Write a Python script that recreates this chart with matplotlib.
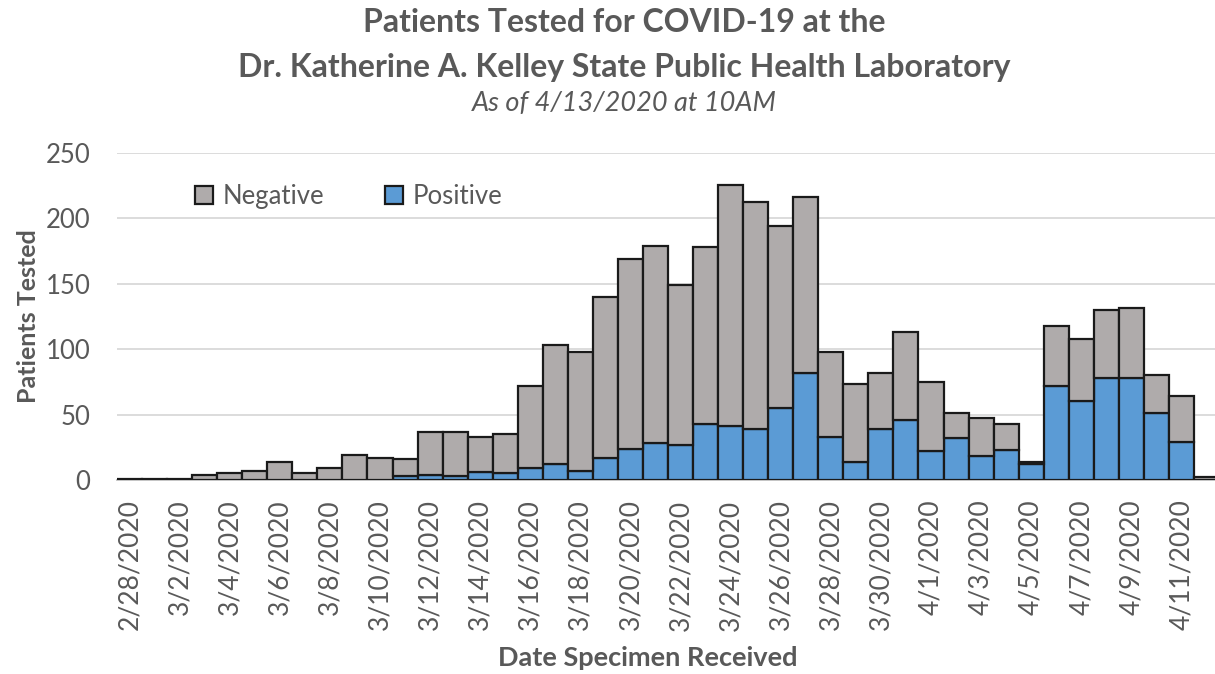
import matplotlib
matplotlib.use("Agg")
import matplotlib.pyplot as plt
import numpy as np

plt.rcParams['font.family'] = ['Lato', 'DejaVu Sans']

dates = ['2/28/2020'] + ['3/%d/2020' % d for d in range(1, 32)] + ['4/%d/2020' % d for d in range(1, 13)]
positive = [0, 0, 0, 0, 0, 0, 0, 0, 0, 0, 0,
            3, 4, 3, 6, 5, 9, 12, 7, 17, 24, 28, 27, 43, 41, 39, 55, 82, 33, 14, 39,
            46, 22, 32, 18, 23, 12, 72, 60, 78, 78, 51, 29, 0]
negative = [1, 1, 1, 4, 5, 7, 14, 5, 9, 19, 17,
            13, 33, 34, 27, 30, 63, 91, 91, 123, 145, 151, 122, 135, 184, 173, 139, 134, 65, 59, 43,
            67, 53, 19, 29, 20, 2, 46, 48, 52, 53, 29, 35, 2]

txt = '#595959'
fig = plt.figure(figsize=(12.15, 6.74), dpi=100)
ax = fig.add_axes((117 / 1215, 194 / 674, 1102 / 1215, 327.3 / 674))

x = np.arange(len(dates))
ax.bar(x, positive, width=1.0, color='#5B9BD5', edgecolor='#1a1a1a', linewidth=1.6,
       label='Positive', zorder=3)
ax.bar(x, negative, width=1.0, bottom=positive, color='#AFABAB', edgecolor='#1a1a1a',
       linewidth=1.6, label='Negative', zorder=3)

ax.set_xlim(-0.5, len(dates) - 0.5)
ax.set_ylim(0, 250)
ax.set_yticks(range(0, 251, 50))
ax.grid(axis='y', color='#d9d9d9', linewidth=1.3, zorder=0)
ax.set_xticks(x[::2])
ax.set_xticklabels(dates[::2], rotation=90)
ax.tick_params(axis='x', length=0, pad=14, labelsize=19, labelcolor=txt)
ax.tick_params(axis='y', length=0, pad=19, labelsize=18.5, labelcolor=txt)
for s in ['top', 'right', 'left']:
    ax.spines[s].set_visible(False)
ax.spines['bottom'].set_color('#bfbfbf')
ax.spines['bottom'].set_linewidth(1.3)

h, l = ax.get_legend_handles_labels()
ax.legend(h[::-1], l[::-1], loc='upper left', bbox_to_anchor=(0.05, 0.975), ncol=2,
          frameon=False, fontsize=18.5, labelcolor=txt, handlelength=0.7, handleheight=0.7,
          handletextpad=0.35, columnspacing=2.4)

ax.set_ylabel('Patients Tested', fontsize=18, fontweight='bold', color=txt, labelpad=4)
fig.text(0.533, 1 - 658 / 674, 'Date Specimen Received', ha='center', va='center',
         fontsize=19.5, fontweight='bold', color=txt)

fig.text(0.514, 1 - 22 / 674, 'Patients Tested for COVID-19 at the', ha='center', va='center',
         fontsize=23, fontweight='bold', color=txt)
fig.text(0.514, 1 - 67 / 674, 'Dr. Katherine A. Kelley State Public Health Laboratory',
         ha='center', va='center', fontsize=23, fontweight='bold', color=txt)
fig.text(0.514, 1 - 104 / 674, 'As of 4/13/2020 at 10AM', ha='center', va='center',
         fontsize=19.5, style='italic', color=txt)

fig.savefig('out.png', dpi=100)
